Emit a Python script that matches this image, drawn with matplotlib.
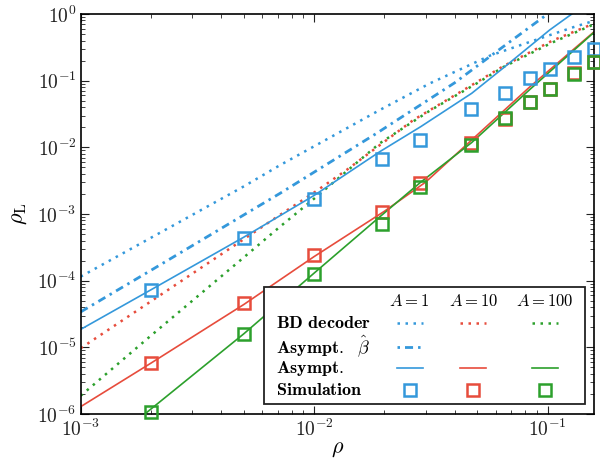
import matplotlib
matplotlib.use('Agg')
import matplotlib.pyplot as plt
from matplotlib.lines import Line2D
from matplotlib.patches import Rectangle

plt.rcParams['mathtext.fontset'] = 'cm'
plt.rcParams['font.family'] = 'serif'
plt.rcParams['font.serif'] = ['cmr10']
plt.rcParams['axes.formatter.use_mathtext'] = True

BLUE = '#3498db'
RED = '#e74c3c'
GREEN = '#2ca02c'

# BD decoder curves (dotted)
bd_a1_x = [0.001, 0.002, 0.005, 0.00714, 0.0191, 0.0313, 0.0566, 0.08, 0.1, 0.13, 0.158]
bd_a1_y = [1.15e-4, 4.4e-4, 2.6e-3, 5.4e-3, 0.0363, 0.091, 0.237, 0.36, 0.47, 0.64, 0.79]
bd_a10_x = [0.001, 0.002, 0.005, 0.00714, 0.01, 0.0138, 0.0266, 0.0497, 0.0646, 0.105, 0.158]
bd_a10_y = [9.7e-6, 4.9e-5, 4.2e-4, 9.7e-4, 2.1e-3, 4.6e-3, 0.0257, 0.095, 0.165, 0.40, 0.72]
bd_a100_x = [0.001, 0.002, 0.005, 0.00714, 0.01, 0.0191, 0.0313, 0.0497, 0.0646, 0.105, 0.158]
bd_a100_y = [1.88e-6, 1.5e-5, 2.24e-4, 6.45e-4, 1.7e-3, 0.0115, 0.0355, 0.091, 0.16, 0.375, 0.70]

# asymptotic with beta hat (dash-dot), A = 1 only
beta_a1_x = [0.001, 0.002, 0.005, 0.00714, 0.0185, 0.040, 0.0585, 0.1, 0.11]
beta_a1_y = [3.4e-5, 1.43e-4, 9.7e-4, 2.04e-3, 0.0162, 0.093, 0.251, 1.0, 1.3]

# asymptotic (solid)
asym_a1_x = [0.001, 0.002, 0.005, 0.01, 0.0191, 0.0286, 0.0473, 0.0656, 0.102, 0.127, 0.14]
asym_a1_y = [1.86e-5, 7.3e-5, 4.5e-4, 1.9e-3, 8.6e-3, 0.0204, 0.0646, 0.162, 0.575, 1.0, 1.35]
asym_a10_x = [0.001, 0.002, 0.005, 0.01, 0.02, 0.03, 0.0473, 0.084, 0.158]
asym_a10_y = [1.29e-6, 5.8e-6, 4.4e-5, 2.3e-4, 1.1e-3, 3.0e-3, 0.0129, 0.081, 0.54]
asym_a100_x = [0.0017, 0.005, 0.01, 0.0194, 0.0286, 0.0473, 0.084, 0.158]
asym_a100_y = [7.5e-7, 1.6e-5, 1.3e-4, 9.5e-4, 3.0e-3, 0.0118, 0.074, 0.53]

# simulation points
sim_x = [0.002, 0.005, 0.01, 0.0195, 0.0285, 0.047, 0.066, 0.084, 0.102, 0.13, 0.158]
sim_a1 = [7.2e-5, 4.3e-4, 1.68e-3, 6.6e-3, 0.0129, 0.0376, 0.066, 0.108, 0.148, 0.224, 0.295]
sim_a10 = [5.75e-6, 4.57e-5, 2.43e-4, 1.08e-3, 2.9e-3, 0.0115, 0.0266, 0.0484, 0.076, 0.129, 0.193]
sim_a100 = [1.06e-6, 1.58e-5, 1.25e-4, 7.0e-4, 2.57e-3, 0.0108, 0.0272, 0.0473, 0.075, 0.128, 0.19]

dotted = (0, (1, 2.2))
dashdot = (0, (2.9, 1.8, 0.9, 1.8))

fig = plt.figure(figsize=(6.0, 4.63), dpi=100)
ax = fig.add_axes([0.1345, 0.1058, 0.8555, 0.864])

ax.plot(bd_a1_x, bd_a1_y, color=BLUE, ls=dotted, lw=1.8)
ax.plot(bd_a10_x, bd_a10_y, color=RED, ls=dotted, lw=1.8)
ax.plot(bd_a100_x, bd_a100_y, color=GREEN, ls=dotted, lw=1.8)
ax.plot(beta_a1_x, beta_a1_y, color=BLUE, ls=dashdot, lw=2.0)
ax.plot(asym_a1_x, asym_a1_y, color=BLUE, lw=1.2)
ax.plot(asym_a10_x, asym_a10_y, color=RED, lw=1.2)
ax.plot(asym_a100_x, asym_a100_y, color=GREEN, lw=1.2)

for ys, c in [(sim_a1, BLUE), (sim_a10, RED), (sim_a100, GREEN)]:
    ax.plot(sim_x, ys, ls='none', marker='s', ms=8.5, mfc='none', mec=c,
            mew=1.8, clip_on=False, zorder=5)

ax.set_xscale('log')
ax.set_yscale('log')
ax.set_xlim(1e-3, 0.158)
ax.set_ylim(1e-6, 1)
ax.tick_params(which='both', direction='in', top=True, right=True,
               labelsize=14, colors='#222222', labelcolor='#222222')
ax.tick_params(which='major', length=6, width=0.8, pad=3)
ax.tick_params(which='minor', length=3, width=0.6)
for s in ax.spines.values():
    s.set_linewidth(1.2)

ax.set_xlabel(r'$\rho$', fontsize=16, labelpad=0)
ax.set_ylabel(r'$\rho_{\mathrm{L}}$', fontsize=16, labelpad=6)

# table-style legend drawn in axes coordinates
def axc(px, py):
    return (px - 80.7) / 513.3, (414 - py) / 400.0

x0, y0 = axc(264, 404)
x1, y1 = axc(585, 287.3)
ax.add_patch(Rectangle((x0, y0), x1 - x0, y1 - y0, transform=ax.transAxes,
                       facecolor='white', edgecolor='#222222', lw=1.3, zorder=10))

col_px = [409.5, 473.3, 545]
headers = [r'$A = 1$', r'$A = 10$', r'$A = 100$']
for cx, h in zip(col_px, headers):
    tx, ty = axc(cx, 300.7)
    ax.text(tx, ty, h, transform=ax.transAxes, ha='center', va='center',
            fontsize=12, zorder=11)

rows = [(r'$\mathbf{BD\ decoder}$', 322.7),
        (r'$\mathbf{Asympt.}\ \ \hat{\beta}$', 346.7),
        (r'$\mathbf{Asympt.}$', 368.3),
        (r'$\mathbf{Simulation}$', 390)]
for lab, py in rows:
    tx, ty = axc(276, py)
    ax.text(tx, ty, lab, transform=ax.transAxes, ha='left', va='center',
            fontsize=13, zorder=11)

colors = [BLUE, RED, GREEN]
for i, (cx, c) in enumerate(zip(col_px, colors)):
    xa, _ = axc(cx - 13, 0)
    xb, _ = axc(cx + 13, 0)
    _, yy = axc(0, 322.7)
    ax.add_line(Line2D([xa, xb], [yy, yy], transform=ax.transAxes, color=c,
                       ls=dotted, lw=1.8, zorder=11))
    if i == 0:
        _, yy = axc(0, 346.7)
        ax.add_line(Line2D([xa, xb], [yy, yy], transform=ax.transAxes, color=c,
                           ls=(0, (0.9, 1.8, 2.9, 1.8)), lw=2.0, zorder=11))
    _, yy = axc(0, 368.3)
    ax.add_line(Line2D([xa, xb], [yy, yy], transform=ax.transAxes, color=c,
                       lw=1.2, zorder=11))
    mx, my = axc(cx, 390)
    ax.add_line(Line2D([mx], [my], transform=ax.transAxes, ls='none', marker='s',
                       ms=8.5, mfc='none', mec=c, mew=1.8, zorder=11))

fig.savefig('out.png', dpi=100)
